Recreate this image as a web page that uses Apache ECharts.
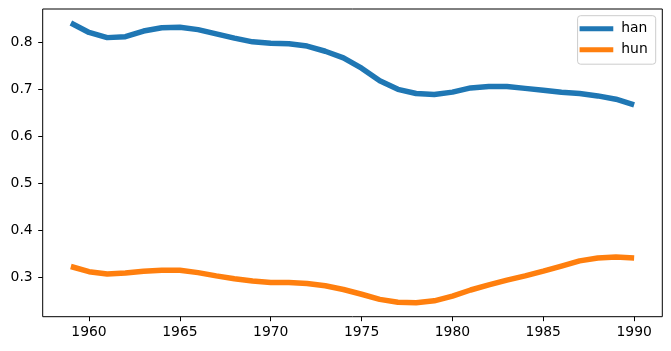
<!DOCTYPE html>
<html>
<head>
<meta charset="utf-8">
<script src="https://cdn.jsdelivr.net/npm/echarts@6/dist/echarts.min.js"></script>
<style>
html,body{margin:0;padding:0;background:#fff;}
#chart{width:671px;height:351px;}
</style>
</head>
<body>
<div id="chart"></div>
<script>
const years = [1959,1960,1961,1962,1963,1964,1965,1966,1967,1968,1969,1970,1971,1972,1973,1974,1975,1976,1977,1978,1979,1980,1981,1982,1983,1984,1985,1986,1987,1988,1989,1990];
const han = [0.841,0.821,0.810,0.812,0.824,0.831,0.832,0.827,0.818,0.809,0.801,0.798,0.797,0.792,0.781,0.767,0.745,0.718,0.700,0.691,0.689,0.694,0.703,0.706,0.706,0.702,0.698,0.694,0.691,0.686,0.679,0.667];
const hun = [0.323,0.312,0.307,0.309,0.313,0.315,0.315,0.310,0.303,0.297,0.292,0.289,0.289,0.287,0.282,0.274,0.264,0.253,0.247,0.246,0.250,0.260,0.273,0.284,0.294,0.303,0.313,0.324,0.335,0.341,0.343,0.341];
const xTicks = [1960,1965,1970,1975,1980,1985,1990];
const yTicks = [0.3,0.4,0.5,0.6,0.7,0.8];

const font = 'DejaVu Sans';
const fs = 13.9;
const chart = echarts.init(document.getElementById('chart'), null, {renderer:'canvas'});
chart.setOption({
  animation: false,
  backgroundColor: '#fff',
  textStyle: {fontFamily: font},
  grid: {left: 42.7, right: 8.7, top: 9, bottom: 34.3, show: true, borderColor: '#000', borderWidth: 1, containLabel: false},
  legend: {
    right: 15.3, top: 15.7,
    orient: 'vertical',
    icon: 'rect',
    itemWidth: 33.7, itemHeight: 5,
    itemGap: 7,
    padding: [6, 8, 7.5, 2],
    borderColor: '#cccccc', borderWidth: 1, borderRadius: 3,
    backgroundColor: 'rgba(255,255,255,0.8)',
    textStyle: {fontFamily: font, fontSize: fs, color: '#000', lineHeight: 14, padding: [0,0,0,3]},
    data: ['han','hun']
  },
  xAxis: {
    type: 'value', min: 1957.45, max: 1991.55,
    axisLine: {show: false},
    splitLine: {show: false},
    axisTick: {show: true, length: 4.5, lineStyle: {color: '#000', width: 1}, customValues: xTicks},
    axisLabel: {customValues: xTicks, fontFamily: font, fontSize: fs, color: '#000', margin: 9, formatter: v => String(v)}
  },
  yAxis: {
    type: 'value', min: 0.2162, max: 0.8709,
    axisLine: {show: false},
    splitLine: {show: false},
    axisTick: {show: true, length: 4.5, lineStyle: {color: '#000', width: 1}, customValues: yTicks},
    axisLabel: {customValues: yTicks, fontFamily: font, fontSize: fs, color: '#000', margin: 10, formatter: v => v.toFixed(1)}
  },
  series: [
    {name: 'han', type: 'line', data: years.map((y,i)=>[y, han[i]]), showSymbol: false, symbol: 'none', lineStyle: {color: '#1f77b4', width: 5.5, cap: 'butt', join: 'round'}, itemStyle: {color: '#1f77b4'}},
    {name: 'hun', type: 'line', data: years.map((y,i)=>[y, hun[i]]), showSymbol: false, symbol: 'none', lineStyle: {color: '#ff7f0e', width: 5.5, cap: 'butt', join: 'round'}, itemStyle: {color: '#ff7f0e'}}
  ]
});
</script>
</body>
</html>
